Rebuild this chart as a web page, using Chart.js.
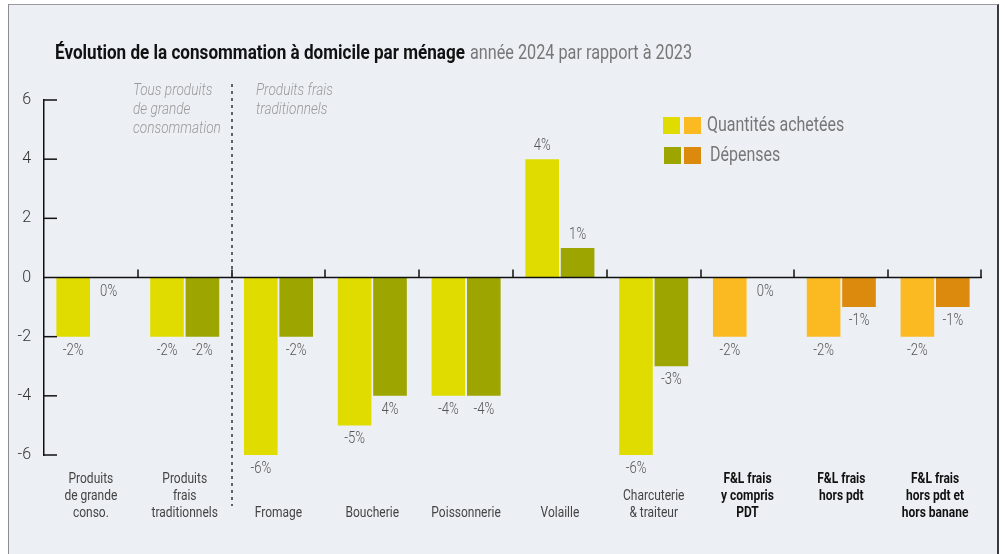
<!DOCTYPE html>
<html lang="fr">
<head>
<meta charset="utf-8">
<script src="https://cdn.jsdelivr.net/npm/chart.js@4.4.1/dist/chart.umd.min.js"></script>
<style>
  html, body { margin: 0; padding: 0; background: #ffffff; width: 1005px; height: 554px; overflow: hidden; }
  #frame { position: absolute; left: 8px; top: 4px; width: 988px; height: 560px; background: #ECF0F4;
           border-left: 1px solid #8c8c8c; border-top: 1px solid #9a9a9a; border-right: 2px solid #3a3a3a; }
  #wrap { position: absolute; left: 0; top: 0; width: 1005px; height: 554px; }
</style>
</head>
<body>
<div id="frame"></div>
<div id="wrap"><canvas id="c" width="1005" height="554"></canvas></div>
<script>
// ---- Data ----
const categories = [
  ["Produits", "de grande", "conso."],
  ["Produits", "frais", "traditionnels"],
  ["Fromage"],
  ["Boucherie"],
  ["Poissonnerie"],
  ["Volaille"],
  ["Charcuterie", "& traiteur"],
  ["F&L frais", "y compris", "PDT"],
  ["F&L frais", "hors pdt"],
  ["F&L frais", "hors pdt et", "hors banane"]
];
const quantites = [-2, -2, -6, -5, -4, 4, -6, -2, -2, -2];
const depenses  = [0, -2, -2, -4, -4, 1, -3, 0, -1, -1];
const quantitesLabels = ["-2%", "-2%", "-6%", "-5%", "-4%", "4%", "-6%", "-2%", "-2%", "-2%"];
const depensesLabels  = ["0%", "-2%", "-2%", "4%", "-4%", "1%", "-3%", "0%", "-1%", "-1%"];
const yTicks = [-6, -4, -2, 0, 2, 4, 6];
const seriesNames = ["Quantités achetées", "Dépenses"];
const titleBold = "Évolution de la consommation à domicile par ménage";
const titleLight = "année 2024 par rapport à 2023";
const groupNotes = [["Tous produits", "de grande", "consommation"], ["Produits frais", "traditionnels"]];

// ---- Styles ----
const FONT = '"Roboto", "Liberation Sans", sans-serif';
const flStart = 7; // index of first F&L category
const cQ = "#E0DC00", cQfl = "#FBBA22", cD = "#9DA600", cDfl = "#DB8A0E";
const colorsQ = categories.map((_, i) => i >= flStart ? cQfl : cQ);
const colorsD = categories.map((_, i) => i >= flStart ? cDfl : cD);

// draw horizontally condensed text (the original uses a condensed typeface)
function condText(ctx, text, x, y, align, sx) {
  ctx.save();
  ctx.translate(x, y);
  ctx.scale(sx, 1);
  ctx.textAlign = align;
  ctx.fillText(text, 0, 0);
  ctx.restore();
}

const decorPlugin = {
  id: 'decor',
  afterDatasetsDraw(chart) {
    const ctx = chart.ctx, area = chart.chartArea;
    const x = chart.scales.x, y = chart.scales.y;
    const y0 = y.getPixelForValue(0);
    const n = categories.length;
    const w = (area.right - area.left) / n;
    ctx.save();
    // zero line with upward boundary ticks
    ctx.strokeStyle = "#111"; ctx.lineWidth = 1.5;
    ctx.beginPath(); ctx.moveTo(area.left, y0); ctx.lineTo(area.right, y0); ctx.stroke();
    for (let i = 1; i <= n; i++) {
      const bx = Math.round(x.getPixelForValue(i - 1) + w / 2) - (i === n ? 1 : 0);
      ctx.beginPath(); ctx.moveTo(bx, y0); ctx.lineTo(bx, y0 - 8); ctx.stroke();
    }
    // inward y ticks
    yTicks.forEach(v => {
      if (v === 0) return;
      const py = y.getPixelForValue(v);
      ctx.beginPath(); ctx.moveTo(area.left, py); ctx.lineTo(area.left + 13, py); ctx.stroke();
    });
    // value labels
    ctx.font = '300 16px ' + FONT; ctx.fillStyle = "#555"; ctx.textBaseline = "middle";
    const sets = [[quantites, quantitesLabels], [depenses, depensesLabels]];
    sets.forEach((s, di) => {
      chart.getDatasetMeta(di).data.forEach((bar, i) => {
        const v = s[0][i];
        const ly = v > 0 ? bar.y - 13 : (v < 0 ? bar.y + 14 : y0 + 14);
        condText(ctx, s[1][i], bar.x, ly, "center", 0.82);
      });
    });
    // category labels (bottom-aligned, F&L top-aligned and bold)
    categories.forEach((lines, i) => {
      const cx = x.getPixelForValue(i);
      const fl = i >= flStart;
      ctx.font = (fl ? 'bold 15px ' : '15px ') + FONT;
      ctx.fillStyle = fl ? "#111" : "#444";
      const startRow = fl ? 0 : 3 - lines.length;
      lines.forEach((t, k) => condText(ctx, t, cx, 479 + (startRow + k) * 17, "center", 0.8));
    });
    // dashed separator between group 2 and 3
    const sx = Math.round(x.getPixelForValue(1) + w / 2);
    ctx.setLineDash([3, 4]); ctx.lineWidth = 1.5; ctx.strokeStyle = "#333";
    ctx.beginPath(); ctx.moveTo(sx, 84); ctx.lineTo(sx, 506); ctx.stroke();
    ctx.setLineDash([]);
    // group notes
    ctx.font = 'italic 300 16px ' + FONT; ctx.fillStyle = "#999";
    groupNotes[0].forEach((t, k) => condText(ctx, t, 133, 91 + k * 19, "left", 0.85));
    groupNotes[1].forEach((t, k) => condText(ctx, t, 256, 91 + k * 19, "left", 0.85));
    // title
    ctx.textBaseline = "alphabetic";
    ctx.font = 'bold 20px ' + FONT; ctx.fillStyle = "#111";
    const tsx = 410 / ctx.measureText(titleBold).width;
    condText(ctx, titleBold, 55, 59, "left", tsx);
    ctx.font = '20px ' + FONT; ctx.fillStyle = "#777";
    const lsx = 222 / ctx.measureText(titleLight).width;
    condText(ctx, titleLight, 470, 59, "left", lsx);
    // legend
    ctx.textBaseline = "middle";
    ctx.fillStyle = cQ; ctx.fillRect(663, 117, 17, 17);
    ctx.fillStyle = cQfl; ctx.fillRect(684, 117, 17, 17);
    ctx.fillStyle = cD; ctx.fillRect(664, 147, 17, 17);
    ctx.fillStyle = cDfl; ctx.fillRect(684, 147, 17, 17);
    ctx.font = '20px ' + FONT; ctx.fillStyle = "#777";
    condText(ctx, seriesNames[0], 707, 126, "left", 0.8);
    condText(ctx, seriesNames[1], 710, 156, "left", 0.8);
    ctx.restore();
  }
};

new Chart(document.getElementById('c'), {
  type: 'bar',
  data: {
    labels: categories.map(c => c.join(' ')),
    datasets: [
      { label: seriesNames[0], data: quantites, backgroundColor: colorsQ, borderWidth: 0,
        categoryPercentage: 0.755, barPercentage: 0.95 },
      { label: seriesNames[1], data: depenses, backgroundColor: colorsD, borderWidth: 0,
        categoryPercentage: 0.755, barPercentage: 0.95 }
    ]
  },
  options: {
    responsive: false,
    animation: false,
    devicePixelRatio: 1,
    layout: { padding: { left: 8, right: 23, top: 100, bottom: 29 } },
    plugins: { legend: { display: false }, tooltip: { enabled: false }, title: { display: false } },
    scales: {
      x: {
        grid: { display: false, drawTicks: false },
        border: { display: false },
        afterFit: s => { s.height = 70; },
        ticks: { display: false, autoSkip: false }
      },
      y: {
        min: -6, max: 6,
        afterFit: s => { s.width = 36; },
        grid: { display: false, drawTicks: false },
        border: { display: true, color: "#111", width: 1.5 },
        afterBuildTicks: s => { s.ticks = yTicks.map(v => ({ value: v })); },
        ticks: { padding: 13, font: { family: FONT, size: 16, weight: '300' }, color: "#333" }
      }
    }
  },
  plugins: [decorPlugin]
});
</script>
</body>
</html>
